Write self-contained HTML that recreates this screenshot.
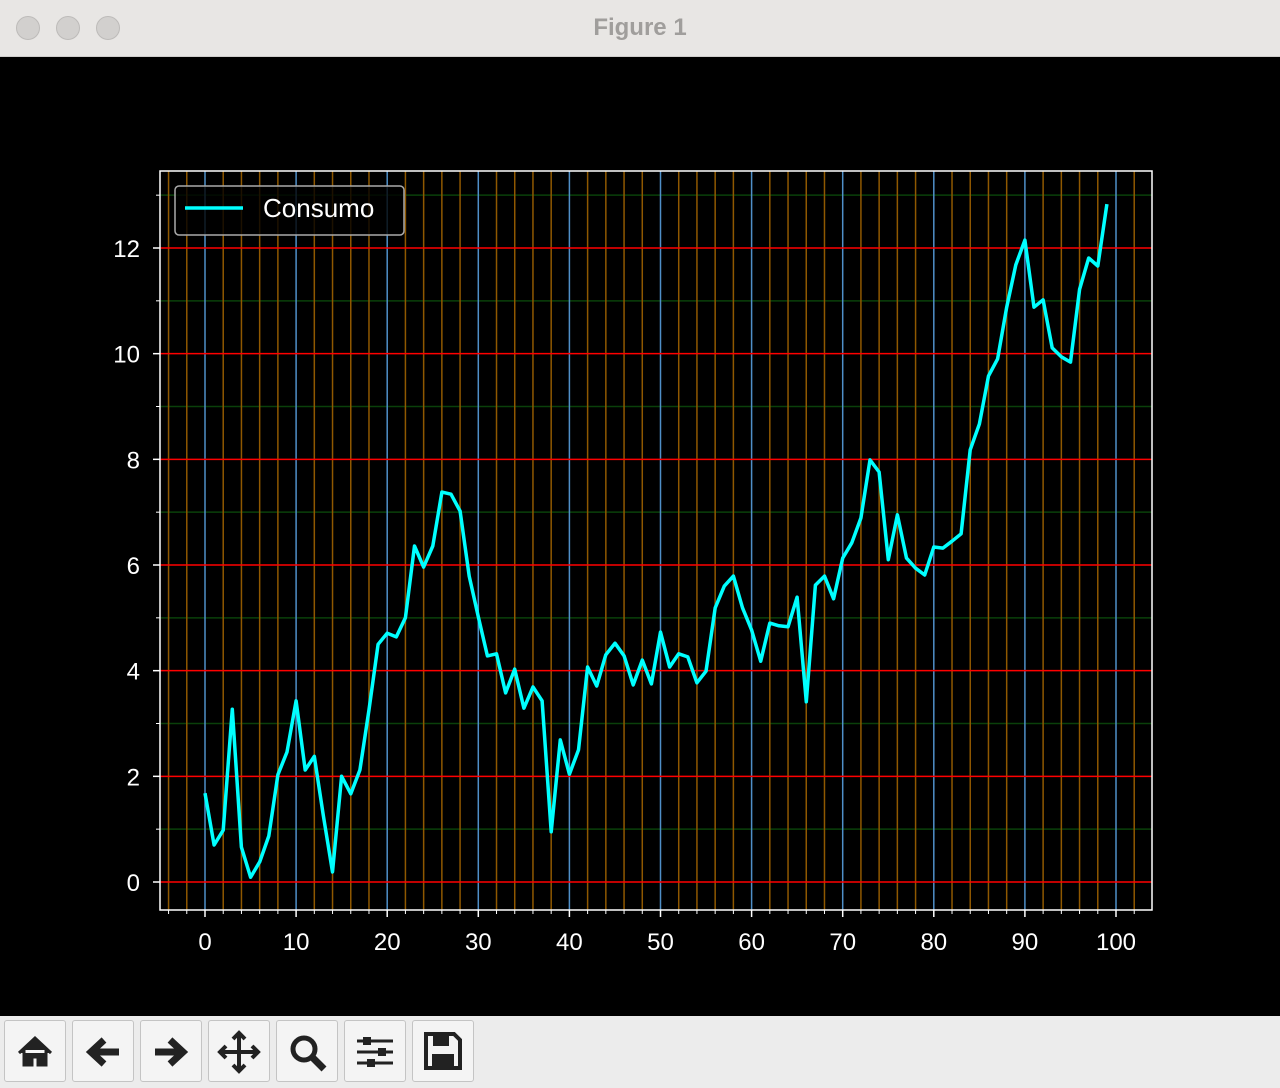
<!DOCTYPE html>
<html><head><meta charset="utf-8"><style>
body{margin:0;width:1280px;height:1088px;overflow:hidden;background:#000;font-family:"Liberation Sans",sans-serif}
#titlebar{position:absolute;left:0;top:0;width:1280px;height:56px;background:#e8e6e4;border-bottom:1px solid #cfcdcb}
.dot{position:absolute;top:16px;width:24px;height:24px;border-radius:50%;background:#d2d0ce;border:1px solid #bdbbb9;box-sizing:border-box}
#title{position:absolute;top:14px;width:100%;text-align:center;color:#a09e9c;font-weight:bold;font-size:24px}
#toolbar{position:absolute;left:0;top:1016px;width:1280px;height:72px;background:#ececec}
.tb{position:absolute;top:4px;width:62px;height:62px;border:1px solid #c4c4c4;background:#f4f4f4;box-sizing:border-box;border-radius:3px}
</style></head><body>
<div id="titlebar">
<div class="dot" style="left:16px"></div>
<div class="dot" style="left:56px"></div>
<div class="dot" style="left:96px"></div>
<div id="title">Figure 1</div>
</div>
<svg id="chart" width="1280" height="960" style="position:absolute;left:0;top:56px"></svg>
<div id="toolbar">
<div class="tb" style="left:4px"><svg width="60" height="60"><path d="M14 32 L30 17 L46 32 M19 29 V44 H27 V36 H33 V44 H41 V29" fill="#222" stroke="#222" stroke-width="3"/></svg></div>
<div class="tb" style="left:72px"><svg width="60" height="60"><path d="M46 31 H20 M31 19 L18 31 L31 43" fill="none" stroke="#222" stroke-width="7"/></svg></div>
<div class="tb" style="left:140px"><svg width="60" height="60"><path d="M14 31 H40 M29 19 L42 31 L29 43" fill="none" stroke="#222" stroke-width="7"/></svg></div>
<div class="tb" style="left:208px"><svg width="60" height="60"><path d="M30 12 V50 M11 31 H49 M24 18 L30 12 L36 18 M24 44 L30 50 L36 44 M17 25 L11 31 L17 37 M43 25 L49 31 L43 37" fill="none" stroke="#222" stroke-width="4"/></svg></div>
<div class="tb" style="left:276px"><svg width="60" height="60"><circle cx="27" cy="28" r="11" fill="none" stroke="#222" stroke-width="5"/><path d="M35 36 L47 48" stroke="#222" stroke-width="7"/></svg></div>
<div class="tb" style="left:344px"><svg width="60" height="60"><path d="M12 20 H48 M12 31 H48 M12 42 H48" stroke="#222" stroke-width="3"/><rect x="18" y="16" width="8" height="8" fill="#222"/><rect x="33" y="27" width="8" height="8" fill="#222"/><rect x="22" y="38" width="8" height="8" fill="#222"/></svg></div>
<div class="tb" style="left:412px"><svg width="60" height="60"><path d="M13 13 H41 L47 19 V47 H13 Z" fill="none" stroke="#222" stroke-width="4"/><rect x="20" y="15" width="16" height="10" fill="#222"/><rect x="19" y="33" width="22" height="12" fill="#222"/></svg></div>
</div>
<script>
const categories=Array.from({length:100},(_,i)=>i);
const consumo=[1.68,0.70,0.98,3.27,0.66,0.09,0.38,0.87,2.03,2.46,3.43,2.12,2.38,1.25,0.19,2.0,1.67,2.12,3.26,4.5,4.71,4.64,5.0,6.36,5.96,6.36,7.38,7.34,7.02,5.79,5.02,4.28,4.32,3.58,4.03,3.29,3.69,3.43,0.95,2.69,2.04,2.5,4.07,3.71,4.3,4.52,4.28,3.73,4.2,3.75,4.73,4.07,4.32,4.26,3.77,3.99,5.19,5.6,5.79,5.19,4.77,4.18,4.9,4.85,4.83,5.39,3.41,5.62,5.79,5.36,6.13,6.42,6.89,7.99,7.76,6.1,6.95,6.13,5.94,5.81,6.34,6.32,6.45,6.59,8.18,8.67,9.58,9.9,10.88,11.68,12.15,10.88,11.02,10.11,9.94,9.84,11.22,11.81,11.66,12.83];
const xTicks=[0,10,20,30,40,50,60,70,80,90,100];
const yTicks=[0,2,4,6,8,10,12];
const OY=56;
const L=160,R=1152,T=171-OY,B=910-OY;
const sx=v=>205+(v-0)*(1116-205)/100;
const sy=v=>(882-OY)-v*(882-248)/12;
const svg=document.getElementById('chart');
const NS='http://www.w3.org/2000/svg';
function mk(t,a){const e=document.createElementNS(NS,t);for(const k in a)e.setAttribute(k,a[k]);svg.appendChild(e);return e;}
for(let v=1;v<=13;v+=2){const y=sy(v);if(y<T||y>B)continue;
const g=mk('line',{x1:L,x2:R,y1:y,y2:y,stroke:'#0a400a','stroke-width':1.5});
}
for(let v=-4;v<=104;v+=2){const x=sx(v);if(x<L||x>R||v%10===0)continue;
const g=mk('line',{x1:x,x2:x,y1:T,y2:B,stroke:'#8f5800','stroke-width':1.5});
}
xTicks.forEach(v=>{const g=mk('line',{x1:sx(v),x2:sx(v),y1:T,y2:B,stroke:'#4f8fc8','stroke-width':1.5});
});
yTicks.forEach(v=>{const g=mk('line',{x1:L,x2:R,y1:sy(v),y2:sy(v),stroke:'#ff0000','stroke-width':1.5});
});
const pts=categories.map((c,i)=>sx(c).toFixed(1)+','+sy(consumo[i]).toFixed(1)).join(' ');
const line=mk('polyline',{points:pts,fill:'none',stroke:'#00ffff','stroke-width':3.5,'stroke-linejoin':'round'});


const fr=mk('rect',{x:L,y:T,width:R-L,height:B-T,fill:'none',stroke:'#fff','stroke-width':1.5});


xTicks.forEach(v=>{mk('line',{x1:sx(v),x2:sx(v),y1:B,y2:B+7,stroke:'#fff','stroke-width':1.5});
const t=mk('text',{x:sx(v),y:B+40,fill:'#fff','font-size':24,'text-anchor':'middle','font-family':'Liberation Sans, sans-serif'});t.textContent=v;
});
for(let v=-4;v<=104;v+=2){if(v%10===0)continue;const x=sx(v);if(x<L||x>R)continue;mk('line',{x1:x,x2:x,y1:B,y2:B+4,stroke:'#fff','stroke-width':1});}
yTicks.forEach(v=>{mk('line',{x1:L-7,x2:L,y1:sy(v),y2:sy(v),stroke:'#fff','stroke-width':1.5});
const t=mk('text',{x:L-20,y:sy(v)+9,fill:'#fff','font-size':24,'text-anchor':'end','font-family':'Liberation Sans, sans-serif'});t.textContent=v;
});
for(let v=1;v<=13;v+=2){mk('line',{x1:L-4,x2:L,y1:sy(v),y2:sy(v),stroke:'#fff','stroke-width':1});}
const lg=mk('rect',{x:175,y:186-OY,width:229,height:49,rx:4,fill:'#000',stroke:'#aaa','stroke-width':1.5,'fill-opacity':0.8});


mk('line',{x1:185,x2:243,y1:208-OY,y2:208-OY,stroke:'#00ffff','stroke-width':3.5});
const lt=mk('text',{x:263,y:217-OY,fill:'#fff','font-size':26,'font-family':'Liberation Sans, sans-serif'});lt.textContent='Consumo';


</script>
</body></html>
